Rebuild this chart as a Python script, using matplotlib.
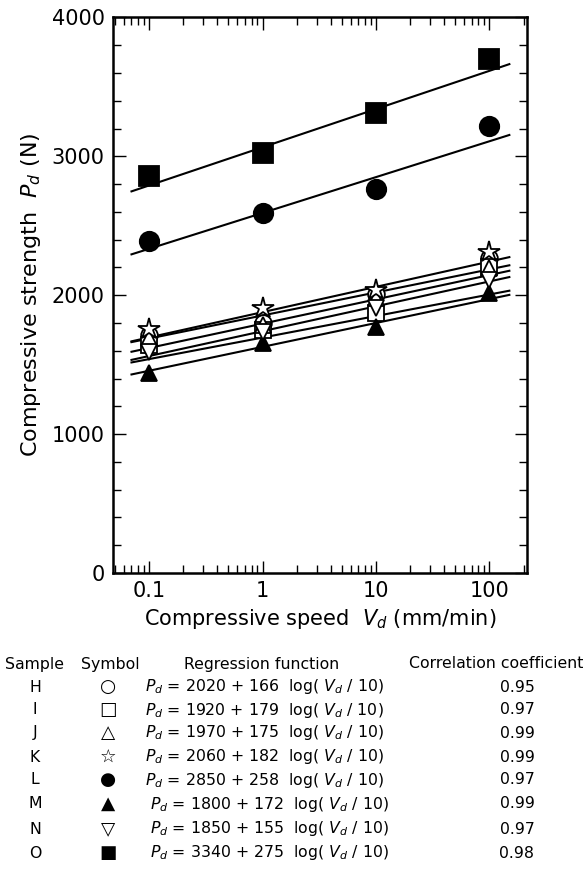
import numpy as np
import matplotlib
matplotlib.use("Agg")
import matplotlib.pyplot as plt
from matplotlib.ticker import LogLocator, MultipleLocator, FixedLocator, FixedFormatter

plt.rcParams['font.family'] = ['DejaVu Sans']
plt.rcParams['mathtext.fontset'] = 'dejavusans'

# compressive speed (mm/min)
speeds = [0.1, 1, 10, 100]

samples = ['H', 'I', 'J', 'K', 'L', 'M', 'N', 'O']
symbols = ['○', '□', '△', '☆', '●', '▲', '▽', '■']

H = [1712, 1798, 2012, 2266]
I = [1640, 1748, 1870, 2201]
J = [1690, 1784, 1978, 2194]
K = [1760, 1906, 2036, 2309]
L = [2388, 2590, 2763, 3216]
M = [1437, 1654, 1770, 2014]
N = [1590, 1734, 1906, 2108]
O = [2856, 3022, 3309, 3698]

# regression: Pd = a + b log(Vd/10)
intercepts = [2020, 1920, 1970, 2060, 2850, 1800, 1850, 3340]
slopes = [166, 179, 175, 182, 258, 172, 155, 275]
corr = ['0.95', '0.97', '0.99', '0.99', '0.97', '0.99', '0.97', '0.98']

data = [H, I, J, K, L, M, N, O]
markers = ['o', 's', '^', '*', 'o', '^', 'v', 's']
faces = ['white', 'white', 'white', 'white', 'black', 'black', 'white', 'black']
msizes = [12, 11, 12, 16, 14, 12, 12, 14]

fig = plt.figure(figsize=(5.85, 8.69), dpi=100)
ax = fig.add_axes([0.193, 0.3406, 0.708, 0.6394])

vfit = np.array([0.07, 150])
for d, a, b, m, fc, ms in zip(data, intercepts, slopes, markers, faces, msizes):
    ax.plot(vfit, a + b * np.log10(vfit / 10), color='black', lw=1.5, zorder=2)
    ax.plot(speeds, d, ls='none', marker=m, mfc=fc, mec='black', mew=1.3,
            ms=ms, zorder=3)

ax.set_xscale('log')
ax.set_xlim(0.048, 215)
ax.set_ylim(0, 4000)
ax.xaxis.set_major_locator(FixedLocator([0.1, 1, 10, 100]))
ax.xaxis.set_major_formatter(FixedFormatter(['0.1', '1', '10', '100']))
ax.xaxis.set_minor_locator(LogLocator(base=10, subs=np.arange(2, 10)))
ax.xaxis.set_minor_formatter(plt.NullFormatter())
ax.yaxis.set_major_locator(MultipleLocator(1000))
ax.yaxis.set_minor_locator(MultipleLocator(200))

ax.tick_params(which='both', direction='in', top=True, right=True,
               width=1.0, labelsize=15, pad=6)
ax.tick_params(which='major', length=9)
ax.tick_params(which='minor', length=6)
for s in ax.spines.values():
    s.set_linewidth(1.8)

ax.set_xlabel(r'Compressive speed  $\mathit{V_d}$ (mm/min)', fontsize=15, labelpad=4)
ax.set_ylabel(r'Compressive strength  $\mathit{P_d}$ (N)', fontsize=16, labelpad=6)

# table below the chart
fs = 11.3
def fy(py):
    return 1 - py / 869

def fx(px):
    return px / 585

fig.text(fx(35), fy(664), 'Sample', ha='center', va='center', fontsize=fs)
fig.text(fx(110), fy(664), 'Symbol', ha='center', va='center', fontsize=fs)
fig.text(fx(262), fy(664), 'Regression function', ha='center', va='center', fontsize=fs)
fig.text(fx(496), fy(664), 'Correlation coefficient', ha='center', va='center', fontsize=fs)

row_y = [687, 710, 733, 757, 780, 804, 829, 853]
for i, (s, sym, a, b, c) in enumerate(zip(samples, symbols, intercepts, slopes, corr)):
    y = fy(row_y[i])
    xs = 145 if i < 5 else 150
    fig.text(fx(35), y, s, ha='center', va='center', fontsize=fs)
    fig.text(fx(108), y, sym, ha='center', va='center', fontsize=fs + 2)
    fig.text(fx(xs), y,
             r'$\mathbf{\mathit{P_d}}$ = %d + %d  log( $\mathit{V_d}$ / 10)' % (a, b),
             ha='left', va='center', fontsize=fs)
    fig.text(fx(517), y, c, ha='center', va='center', fontsize=fs)

fig.savefig('out.png', dpi=100)
